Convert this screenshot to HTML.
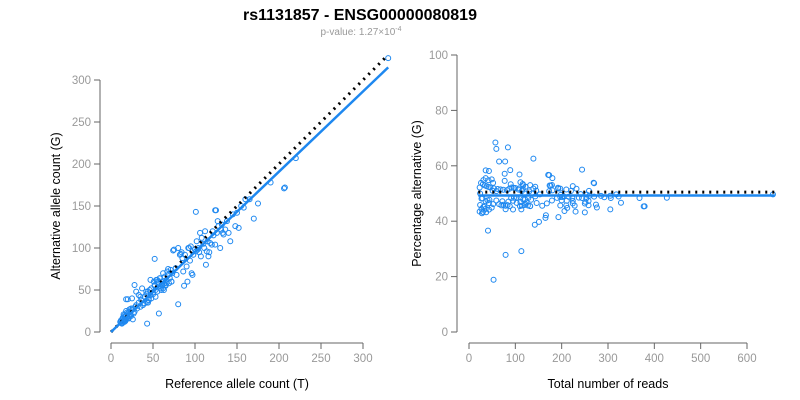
<!DOCTYPE html>
<html><head><meta charset="utf-8"><style>
html,body{margin:0;padding:0;background:#fff;}
svg{display:block;font-family:"Liberation Sans",Arial,sans-serif;}
</style></head><body>
<svg id="chart" width="800" height="400">
<text x="360" y="20" text-anchor="middle" font-size="16" font-weight="bold" fill="#000">rs1131857 - ENSG00000080819</text>
<text x="361" y="35" text-anchor="middle" font-size="10" fill="#999">p-value: 1.27×10<tspan dy="-4" font-size="7">-4</tspan></text>
<g id="left"></g>
<g id="right"></g>
</svg>
<script>
const refCounts=[
12,14,15,16,17,18,13,19,20,21,
22,15,16,18,23,25,14,17,19,24,
26,28,30,12,13,18,20,22,27,29,
31,33,35,36,38,40,42,43,44,45,
46,47,48,50,51,52,53,54,55,56,
57,58,59,60,61,62,63,64,65,66,
67,68,69,70,71,72,73,40,45,50,
55,60,65,35,38,42,48,52,58,62,
68,72,75,78,80,82,84,85,86,88,
90,92,94,95,96,98,100,101,102,104,
105,106,108,110,111,112,114,115,116,118,
120,122,124,125,126,128,130,131,132,134,
136,138,140,145,148,150,152,155,158,160,
165,170,175,190,206,207,220,330,43,57,
80,101,124,52,18,20,142,30,28,25,
33,37,44,47,53,56,63,66,74,77,
83,87,91,93,97,103,107,113,117,121,
127,133,23,26,24,21,16,14,11,15];
const altCounts=[
12,16,14,18,13,20,11,17,22,19,
24,12,20,15,21,26,17,14,23,19,
28,24,32,14,10,25,16,27,22,30,
28,35,30,38,34,42,45,36,48,40,
50,44,52,47,60,55,50,62,48,58,
54,64,52,60,56,70,58,66,55,62,
72,68,58,64,74,60,70,34,38,45,
62,50,56,42,32,48,40,56,64,52,
75,60,98,68,100,92,95,88,72,92,
78,100,85,102,70,92,98,96,108,100,
95,118,112,105,100,120,96,108,90,106,
104,115,104,145,118,126,100,122,128,116,
122,132,118,140,126,142,124,150,148,158,
158,135,153,178,171,172,207,326,10,22,
33,143,145,87,39,39,108,48,56,40,
44,52,35,62,42,60,50,58,97,76,
93,55,60,100,68,98,90,80,95,120,
132,118,20,15,28,16,12,13,12,21];
function mk(tag,attrs,parent){const e=document.createElementNS('http://www.w3.org/2000/svg',tag);for(const k in attrs)e.setAttribute(k,attrs[k]);parent.appendChild(e);return e;}
function panel(g,cfg){
  const sx=v=>cfg.x0+(v-cfg.xmin)/(cfg.xmax-cfg.xmin)*(cfg.x1-cfg.x0);
  const sy=v=>cfg.y0-(v-cfg.ymin)/(cfg.ymax-cfg.ymin)*(cfg.y0-cfg.y1);
  const ax=mk('g',{},g);
  
  
  mk('line',{x1:cfg.x0,x2:cfg.x1,y1:343,y2:343,stroke:'#666'},ax);
  cfg.xt.forEach(t=>{mk('line',{x1:sx(t),x2:sx(t),y1:343,y2:349,stroke:'#666'},ax);
    const tx=mk('text',{x:sx(t),y:362,'text-anchor':'middle','font-size':11.5,fill:'#999'},ax);tx.textContent=t;});
  const ay=mk('g',{},g);
  
  
  mk('line',{x1:cfg.ax,x2:cfg.ax,y1:cfg.y0,y2:cfg.y1,stroke:'#666'},ay);
  cfg.yt.forEach(t=>{mk('line',{x1:cfg.ax-6,x2:cfg.ax,y1:sy(t),y2:sy(t),stroke:'#666'},ay);
    const tx=mk('text',{x:cfg.ax-9,y:sy(t)+4,'text-anchor':'end','font-size':11.5,fill:'#999'},ay);tx.textContent=t;});
  const xl=mk('text',{x:(cfg.x0+cfg.x1)/2,y:388,'text-anchor':'middle','font-size':12.5,fill:'#000'},g);
  
  
  xl.textContent=cfg.xlab;
  const yl=mk('text',{x:0,y:0,'text-anchor':'middle','font-size':12.5,fill:'#000',transform:`translate(${cfg.ylx},${(cfg.y0+cfg.y1)/2}) rotate(-90)`},g);
  
  
  yl.textContent=cfg.ylab;
  const pts=mk('g',{},g);
  
  
  cfg.xs.forEach((v,i)=>{const c=mk('circle',{cx:sx(v),cy:sy(cfg.ys[i]),r:2.5,fill:'none',stroke:'#1e88f0','stroke-width':1},pts);
    
    });
  const d=mk('line',{x1:sx(cfg.ref[0]),y1:sy(cfg.ref[1]),x2:sx(cfg.ref[2]),y2:sy(cfg.ref[3]),stroke:'#000','stroke-width':3,'stroke-dasharray':'2,5'},g);
  
  
  const f=mk('line',{x1:sx(cfg.fit[0]),y1:sy(cfg.fit[1]),x2:sx(cfg.fit[2]),y2:sy(cfg.fit[3]),stroke:'#1e88f0','stroke-width':2.5},g);
  
  
}
const totals=refCounts.map((r,i)=>r+altCounts[i]);
const pcts=refCounts.map((r,i)=>altCounts[i]/(r+altCounts[i])*100);
panel(document.getElementById('left'),{id:'left',x0:111,x1:363,xmin:0,xmax:300,y0:332,y1:80,ymin:0,ymax:300,ax:100,
  xt:[0,50,100,150,200,250,300],yt:[0,50,100,150,200,250,300],xlab:'Reference allele count (T)',ylab:'Alternative allele count (G)',ylx:60,
  xs:refCounts,ys:altCounts,ref:[0,0,330,330],fit:[0,0,330,315]});
panel(document.getElementById('right'),{id:'right',x0:469,x1:747,xmin:0,xmax:600,y0:332,y1:55,ymin:0,ymax:100,ax:457,
  xt:[0,100,200,300,400,500,600],yt:[0,20,40,60,80,100],xlab:'Total number of reads',ylab:'Percentage alternative (G)',ylx:421,
  xs:totals,ys:pcts,ref:[20,50.5,660,50.5],fit:[20,49.3,660,49.3]});
</script>
</body></html>
